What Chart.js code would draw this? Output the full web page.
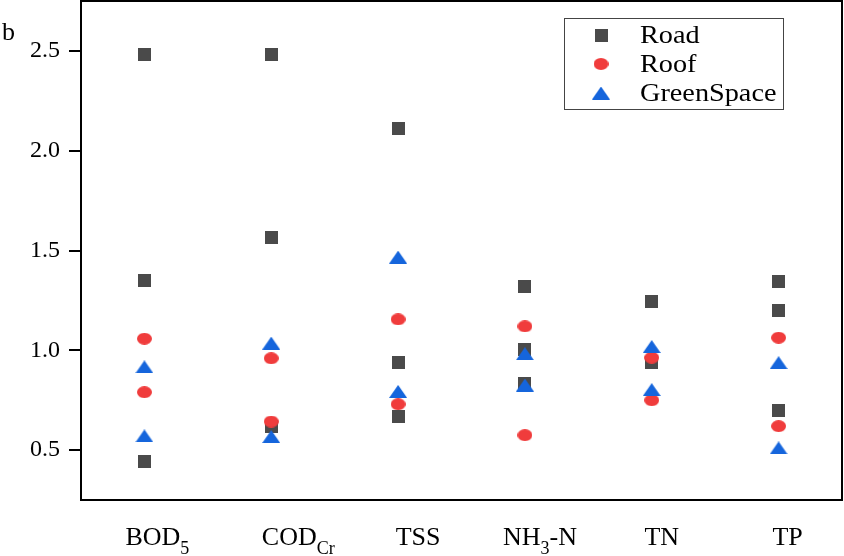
<!DOCTYPE html>
<html>
<head>
<meta charset="utf-8">
<title>Pollutant ratios by surface</title>
<script src="https://cdn.jsdelivr.net/npm/chart.js@4.4.1/dist/chart.umd.min.js"></script>
<style>
  html, body { margin: 0; padding: 0; background: #fff; }
  canvas { display: block; }
</style>
</head>
<body>
<canvas id="chart" width="844" height="556"></canvas>
<script>
// categories and their label parts (main text, subscript, trailing text)
const categories = ['BOD5', 'CODCr', 'TSS', 'NH3-N', 'TN', 'TP'];
const labelMain = ['BOD', 'COD', 'TSS', 'NH', 'TN', 'TP'];
const labelSub = ['5', 'Cr', '', '3', '', ''];
const labelTail = ['', '', '', '-N', '', ''];

const yTickValues = [0.5, 1.0, 1.5, 2.0, 2.5];

// Road: three values per pollutant (TN shows only two)
const roadHigh = [2.48, 2.48, 2.11, 1.32, 1.245, 1.347];
const roadMid = [1.35, 1.565, 0.94, 1.005, 0.94, 1.20];
const roadLow = [0.445, 0.62, 0.67, 0.835, null, 0.70];

// Roof
const roofHigh = [1.058, 0.96, 1.155, 1.12, 0.963, 1.063];
const roofLow = [0.79, 0.643, 0.73, 0.575, 0.75, 0.62];

// GreenSpace
const greenHigh = [0.917, 1.036, 1.467, 0.983, 1.019, 0.938];
const greenLow = [0.571, 0.568, 0.794, 0.826, 0.803, 0.511];

// horizontal nudge of the category labels, as in the source figure
const labelShift = [13, 27, 20, 15, 10, 9];

function toPoints(...rows) {
    const pts = [];
    rows.forEach(row => {
        row.forEach((v, i) => {
            if (v !== null) pts.push({ x: i, y: v });
        });
    });
    return pts;
}

function makeMarker(w, h, color, shape) {
    const c = document.createElement('canvas');
    c.width = w;
    c.height = h;
    const g = c.getContext('2d');
    g.fillStyle = color;
    g.beginPath();
    if (shape === 'square') {
        g.rect(0, 0, w, h);
    } else if (shape === 'ellipse') {
        g.ellipse(w / 2, h / 2, w / 2, h / 2, 0, 0, Math.PI * 2);
    } else {
        g.moveTo(w / 2, 0);
        g.lineTo(w, h);
        g.lineTo(0, h);
        g.closePath();
    }
    g.fill();
    return c;
}

const squareMark = makeMarker(13, 13, '#4a4a4a', 'square');
const circleMark = makeMarker(15, 12, '#f03c3c', 'ellipse');
const triangleMark = makeMarker(18, 13, '#1565dc', 'triangle');

const serif = "'Liberation Serif', 'Times New Roman', serif";

// full frame + "b" panel letter
const framePlugin = {
    id: 'frame',
    afterDraw(chart) {
        const { ctx, chartArea } = chart;
        ctx.save();
        ctx.strokeStyle = '#000';
        ctx.lineWidth = 2;
        ctx.strokeRect(chartArea.left, chartArea.top, chartArea.right - chartArea.left, chartArea.bottom - chartArea.top);
        ctx.fillStyle = '#000';
        ctx.font = '26px ' + serif;
        ctx.textBaseline = 'alphabetic';
        ctx.fillText('b', 2, 40);
        ctx.restore();
    }
};

// category labels with subscripts
const xLabelPlugin = {
    id: 'xLabels',
    afterDraw(chart) {
        const { ctx } = chart;
        const xScale = chart.scales.x;
        const mainFont = '26px ' + serif;
        const subFont = '18px ' + serif;
        const baseline = 545;
        ctx.save();
        ctx.fillStyle = '#000';
        ctx.textBaseline = 'alphabetic';
        ctx.textAlign = 'left';
        categories.forEach((cat, i) => {
            ctx.font = mainFont;
            const wMain = ctx.measureText(labelMain[i]).width;
            const wTail = ctx.measureText(labelTail[i]).width;
            ctx.font = subFont;
            const wSub = ctx.measureText(labelSub[i]).width;
            const total = wMain + wSub + wTail;
            let x = xScale.getPixelForValue(i) + labelShift[i] - total / 2;
            ctx.font = mainFont;
            ctx.fillText(labelMain[i], x, baseline);
            x += wMain;
            if (labelSub[i]) {
                ctx.font = subFont;
                ctx.fillText(labelSub[i], x, baseline + 9);
                x += wSub;
            }
            if (labelTail[i]) {
                ctx.font = mainFont;
                ctx.fillText(labelTail[i], x, baseline);
            }
        });
        ctx.restore();
    }
};

// boxed legend in the upper right of the plot
const legendPlugin = {
    id: 'boxLegend',
    afterDraw(chart) {
        const { ctx } = chart;
        const left = 564, top = 18, w = 219, h = 91;
        ctx.save();
        ctx.strokeStyle = '#444';
        ctx.lineWidth = 1;
        ctx.strokeRect(left + 0.5, top + 0.5, w, h);
        ctx.fillStyle = '#000';
        ctx.font = '25px ' + serif;
        ctx.textBaseline = 'middle';
        chart.data.datasets.forEach((ds, i) => {
            const cy = 35 + i * 29;
            const img = ds.pointStyle;
            ctx.drawImage(img, 601 - img.width / 2, cy - img.height / 2);
            ctx.save();
            ctx.translate(640, cy + 1);
            ctx.scale(1.13, 1);
            ctx.fillText(ds.label, 0, 0);
            ctx.restore();
        });
        ctx.restore();
    }
};

new Chart(document.getElementById('chart').getContext('2d'), {
    type: 'scatter',
    data: {
        datasets: [
            { label: 'Road', data: toPoints(roadHigh, roadMid, roadLow), pointStyle: squareMark, order: 3 },
            { label: 'Roof', data: toPoints(roofHigh, roofLow), pointStyle: circleMark, order: 2 },
            { label: 'GreenSpace', data: toPoints(greenHigh, greenLow), pointStyle: triangleMark, order: 1 }
        ]
    },
    options: {
        responsive: false,
        animation: false,
        layout: { autoPadding: false, padding: { top: 1, right: 2, left: 0, bottom: 0 } },
        plugins: {
            legend: { display: false },
            tooltip: { enabled: false }
        },
        scales: {
            x: {
                type: 'linear',
                min: -0.5,
                max: 5.5,
                grid: { display: false },
                border: { display: true, color: '#000', width: 2 },
                ticks: { display: false },
                afterFit: s => {
                    s.height = 56;
                    s.paddingLeft = 0;
                    s.paddingRight = 0;
                }
            },
            y: {
                min: 0.25,
                max: 2.75,
                afterBuildTicks: s => { s.ticks = yTickValues.map(v => ({ value: v })); },
                grid: { display: true, drawOnChartArea: false, drawTicks: true, tickLength: 12, color: '#000', lineWidth: 2 },
                border: { display: true, color: '#000', width: 2 },
                ticks: {
                    color: '#000',
                    padding: 9,
                    font: { family: serif, size: 24 },
                    callback: v => v.toFixed(1)
                },
                afterFit: s => {
                    s.width = 81;
                    s.paddingTop = 0;
                    s.paddingBottom = 0;
                }
            }
        }
    },
    plugins: [framePlugin, xLabelPlugin, legendPlugin]
});
</script>
</body>
</html>
